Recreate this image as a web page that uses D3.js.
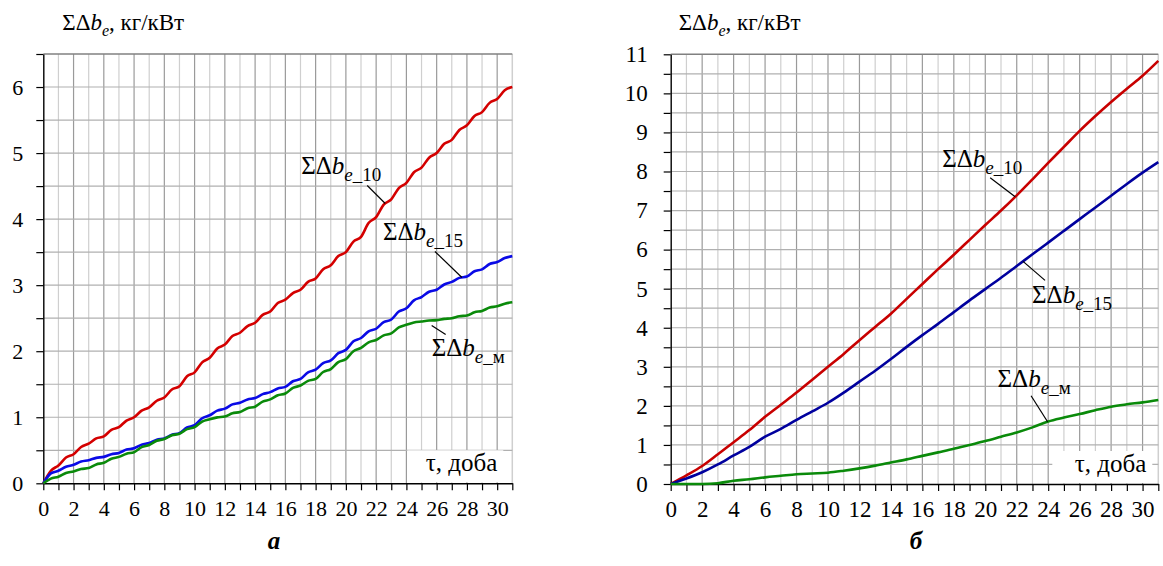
<!DOCTYPE html>
<html>
<head>
<meta charset="utf-8">
<script src="https://d3js.org/d3.v7.min.js"></script>
<style>
  body { margin: 0; }
  #chart text, #chart tspan { font-family: "Times New Roman", "Liberation Serif", Tinos, serif !important; }
</style>
</head>
<body>
<svg width="1163" height="566" id="chart" font-family="Times New Roman"></svg>
<script>
// panel a: sampled every half day
const tauA = d3.range(0, 31.01, 0.5);
const a10 = [0,0.19,0.27,0.39,0.44,0.55,0.60,0.68,0.71,0.81,0.85,0.95,1.00,1.10,1.15,1.25,1.30,1.42,1.47,1.62,1.68,1.83,1.90,2.04,2.10,2.23,2.28,2.38,2.43,2.55,2.60,2.73,2.78,2.88,2.93,3.05,3.10,3.24,3.30,3.44,3.50,3.66,3.73,3.94,4.03,4.22,4.30,4.47,4.55,4.71,4.78,4.93,5.00,5.14,5.20,5.35,5.42,5.56,5.62,5.76,5.82,5.95,6.00];
const a15 = [0,0.15,0.19,0.25,0.28,0.33,0.35,0.385,0.40,0.44,0.46,0.51,0.53,0.585,0.61,0.66,0.68,0.735,0.76,0.845,0.88,0.985,1.03,1.10,1.13,1.195,1.22,1.27,1.29,1.35,1.38,1.435,1.46,1.545,1.58,1.68,1.72,1.82,1.86,1.97,2.02,2.15,2.20,2.30,2.34,2.44,2.48,2.60,2.65,2.77,2.82,2.90,2.93,3.01,3.05,3.11,3.13,3.21,3.24,3.32,3.35,3.41,3.44];
const aM  = [0,0.07,0.10,0.156,0.18,0.215,0.23,0.286,0.31,0.373,0.40,0.449,0.47,0.547,0.58,0.643,0.67,0.726,0.75,0.82,0.85,0.934,0.97,0.998,1.01,1.06,1.08,1.136,1.16,1.237,1.27,1.333,1.36,1.444,1.48,1.55,1.58,1.685,1.73,1.835,1.88,2.00,2.05,2.134,2.17,2.24,2.27,2.36,2.40,2.435,2.45,2.464,2.47,2.49,2.50,2.53,2.54,2.59,2.61,2.66,2.68,2.72,2.74];

// panel б: sampled every day
const tauB = d3.range(0, 32, 1);
const b10 = [0,0.22,0.46,0.76,1.07,1.38,1.72,2.03,2.34,2.67,3.00,3.33,3.68,4.02,4.36,4.74,5.12,5.50,5.87,6.25,6.63,7.00,7.39,7.80,8.22,8.63,9.04,9.42,9.78,10.12,10.45,10.83];
const b15 = [0,0.14,0.30,0.50,0.73,0.95,1.21,1.41,1.64,1.86,2.08,2.34,2.62,2.90,3.20,3.51,3.81,4.10,4.40,4.70,4.99,5.28,5.58,5.88,6.18,6.48,6.78,7.08,7.38,7.68,7.97,8.24];
const bM  = [0,0,0,0.02,0.085,0.12,0.17,0.21,0.25,0.27,0.29,0.34,0.40,0.47,0.55,0.63,0.72,0.81,0.90,1.00,1.10,1.21,1.32,1.45,1.60,1.70,1.79,1.89,1.98,2.04,2.09,2.15];

const xTickLabels = d3.range(0, 31, 2);
const yMaxA = 6.5, yMaxB = 11;

const svg = d3.select("#chart");

function txt(sel) {
  return sel.attr("font-family", "Times New Roman").attr("fill", "#000");
}

function bLabel(t, s) {
  // ΣΔb with subscript e + suffix
  t.append("tspan").text("ΣΔ");
  t.append("tspan").attr("font-style", "italic").text("b");
  t.append("tspan").attr("font-style", "italic").attr("font-size", s.subSize).attr("dy", s.subDy).text("e");
  if (s.suffix) t.append("tspan").attr("font-size", s.subSize).text(s.suffix);
  if (s.after) t.append("tspan").attr("dy", -s.subDy).text(s.after);
}

function drawPanel(p) {
  const g = svg.append("g");
  const x = d3.scaleLinear().domain([0, 31]).range([p.left, p.right]);
  const y = d3.scaleLinear().domain([0, p.yMax]).range([p.bottom, p.top]);

  // grid
  g.append("g").selectAll("line").data(d3.range(1, 32)).join("line")
    .attr("x1", d => x(d)).attr("x2", d => x(d))
    .attr("y1", p.top).attr("y2", p.bottom)
    .attr("stroke", d => d % 2 === 0 ? "#9a9a9a" : "#cfcfcf")
    .attr("stroke-width", d => d === 31 ? 1.5 : 1.2);
  g.append("g").selectAll("line").data(d3.range(0.5, p.yMax + 0.01, 0.5)).join("line")
    .attr("x1", p.left).attr("x2", p.right)
    .attr("y1", d => y(d)).attr("y2", d => y(d))
    .attr("stroke", d => d === p.yMax ? "#808080" : "#b0b0b0")
    .attr("stroke-width", d => d === p.yMax ? 1.5 : 1.2);

  // label box for x title
  g.append("rect")
    .attr("x", p.right - p.boxW - p.boxGap).attr("y", p.bottom - 33)
    .attr("width", p.boxW).attr("height", 32).attr("fill", "#fff");
  txt(g.append("text")).attr("x", p.right - p.boxGap - 6).attr("y", p.bottom - 12)
    .attr("text-anchor", "end").attr("font-size", 25).text("τ, доба");

  // axes
  const yAxis = d3.axisLeft(y).tickValues(d3.range(0, p.yMax + 0.01, 0.5))
    .tickSize(7).tickSizeOuter(0).tickPadding(p.yPad)
    .tickFormat(d => Number.isInteger(d) ? d : "");
  const ya = g.append("g").attr("transform", `translate(${p.left},0)`).call(yAxis);
  const xAxis = d3.axisBottom(x).tickValues(d3.range(0, 32, 1))
    .tickSize(7).tickSizeOuter(0).tickPadding(10)
    .tickFormat(d => xTickLabels.includes(d) ? d : "");
  const xa = g.append("g").attr("transform", `translate(0,${p.bottom})`).call(xAxis);
  [ya, xa].forEach(a => {
    a.attr("font-family", "Times New Roman").attr("font-size", p.tickSize);
    a.select(".domain").attr("stroke", "#000").attr("stroke-width", 1.4);
    a.selectAll(".tick line").attr("stroke", "#000").attr("stroke-width", 1.2);
    txt(a.selectAll("text")).attr("font-size", p.tickSize);
  });

  // curves
  const line = d3.line().x(d => x(d[0])).y(d => y(d[1])).curve(d3.curveMonotoneX);
  p.series.forEach(s => {
    g.append("path").datum(p.tau.map((t, i) => [t, s.values[i]]))
      .attr("d", line).attr("fill", "none")
      .attr("stroke", s.color).attr("stroke-width", 2.6).attr("stroke-linejoin", "round");
  });

  // annotations
  p.series.forEach(s => {
    const a = s.note;
    const i = d3.bisectLeft(p.tau, a.tau);
    const t0 = p.tau[i - 1], t1 = p.tau[i];
    const v = s.values[i - 1] + (s.values[i] - s.values[i - 1]) * (a.tau - t0) / (t1 - t0);
    const cx = x(a.tau), cy = y(v);
    g.append("line")
      .attr("x1", cx + a.l1[0]).attr("y1", cy + a.l1[1])
      .attr("x2", cx + a.l2[0]).attr("y2", cy + a.l2[1])
      .attr("stroke", "#000").attr("stroke-width", 1.2);
    const t = txt(g.append("text")).attr("x", cx + a.tx).attr("y", cy + a.ty).attr("font-size", 25);
    bLabel(t, { subSize: 19, subDy: 7, suffix: s.suffix });
  });

  // y title
  const tt = txt(g.append("text")).attr("x", p.left + p.titleDx).attr("y", 30).attr("font-size", 23);
  bLabel(tt, { subSize: 16, subDy: 6, after: ", кг/кВт" });

  // panel letter
  txt(g.append("text")).attr("x", p.letterX).attr("y", 549).attr("text-anchor", "middle")
    .attr("font-size", 25).attr("font-weight", "bold").attr("font-style", "italic").text(p.letter);
}

drawPanel({
  left: 43.3, right: 512.3, top: 54, bottom: 483.3, yMax: yMaxA, yPad: 13, tickSize: 22,
  boxW: 96, boxGap: 9, titleDx: 19, letter: "а", letterX: 274,
  tau: tauA,
  series: [
    { values: a10, color: "#d40000", suffix: "_10",
      note: { tau: 22.6, l1: [-18, -18], l2: [0, 0], tx: -84, ty: -30 } },
    { values: a15, color: "#0a0ae6", suffix: "_15",
      note: { tau: 27.67, l1: [-27, -26], l2: [0, 0], tx: -79, ty: -37 } },
    { values: aM, color: "#0a8a0a", suffix: "_м",
      note: { tau: 25.67, l1: [0, 5], l2: [14, 14], tx: 0, ty: 36 } }
  ]
});

drawPanel({
  left: 670.7, right: 1158.3, top: 54.3, bottom: 484, yMax: yMaxB, yPad: 16, tickSize: 23,
  boxW: 100, boxGap: 6, titleDx: 8, letter: "б", letterX: 916,
  tau: tauB,
  series: [
    { values: b10, color: "#c80000", suffix: "_10",
      note: { tau: 21.9, l1: [-25, -19], l2: [0, 0], tx: -73, ty: -30 } },
    { values: b15, color: "#00009e", suffix: "_15",
      note: { tau: 22.4, l1: [0, 0], l2: [22, 19], tx: 9, ty: 42 } },
    { values: bM, color: "#0a8a0a", suffix: "_м",
      note: { tau: 23.96, l1: [-16.5, -26], l2: [0, 0], tx: -50, ty: -35 } }
  ]
});
</script>
</body>
</html>
